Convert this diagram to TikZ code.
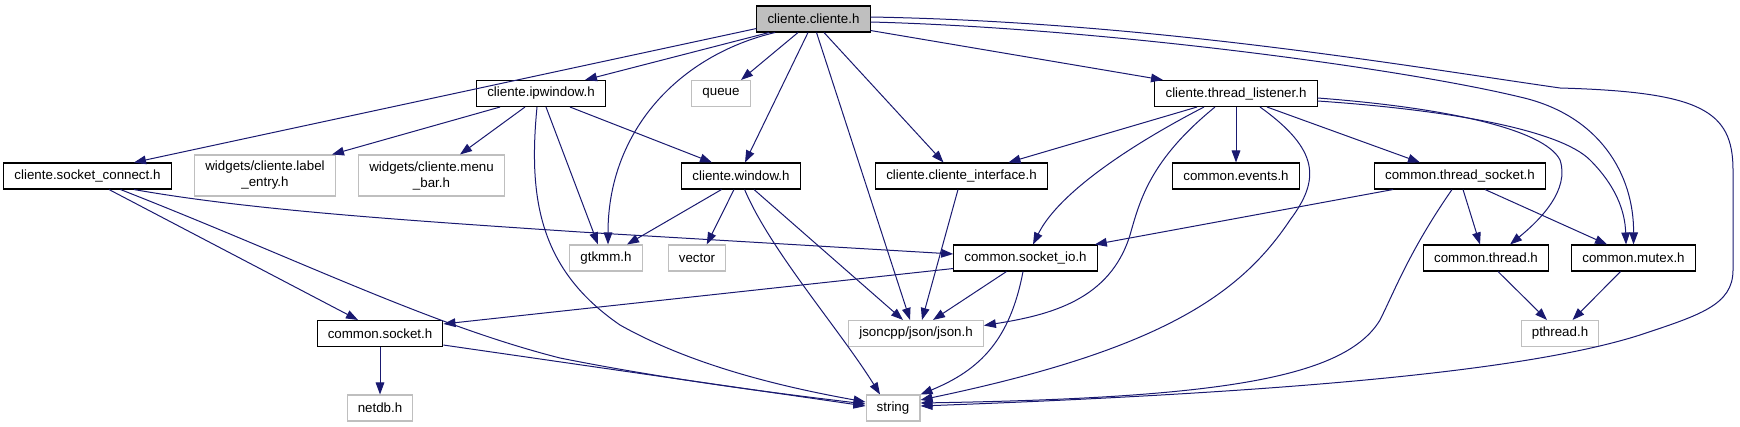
\documentclass[tikz,border=0pt]{standalone}
\usepackage{fontspec}
\setmainfont{Liberation Sans}
\usetikzlibrary{arrows.meta}
\definecolor{cnavy}{HTML}{191970}
\definecolor{cgrey}{HTML}{BFBFBF}
\tikzset{
  every picture/.style={line width=0.75pt},
  hdr/.style={draw=black, line width=0.8pt, fill=white, inner xsep=8pt, inner ysep=2pt, minimum height=19.5pt, align=center, font=\fontsize{10}{12}\selectfont},
  syshdr/.style={hdr, draw=cgrey},
  mainhdr/.style={hdr, fill=cgrey},
  dep/.style={-{Triangle[length=9pt, width=6.5pt]}, draw=cnavy, line width=0.75pt},
}
\begin{document}
\begin{tikzpicture}[x=0.75pt, y=-0.75pt]
  \useasboundingbox (0,0) rectangle (1740,427);
  % headers, one row per rank
  \node[mainhdr] (cliente) at (813.5,19) {cliente.cliente.h};
  \node[hdr] (ipwin) at (541,93.5) {cliente.ipwindow.h};
  \node[syshdr] (queue) at (721,93.5) {queue};
  \node[hdr] (listener) at (1236,93.5) {cliente.thread\_listener.h};
  \node[hdr] (sockconn) at (87.5,176) {cliente.socket\_connect.h};
  \node[syshdr, minimum height=30.75pt] (labelentry) at (265,175.5) {widgets/cliente.label\\\_entry.h};
  \node[syshdr, minimum height=30.75pt] (menubar) at (431.5,175.5) {widgets/cliente.menu\\\_bar.h};
  \node[hdr] (window) at (741,176) {cliente.window.h};
  \node[hdr] (iface) at (961.5,176) {cliente.cliente\_interface.h};
  \node[hdr] (events) at (1236,176) {common.events.h};
  \node[hdr] (threadsock) at (1460,176) {common.thread\_socket.h};
  \node[syshdr] (gtkmm) at (606,258) {gtkmm.h};
  \node[syshdr] (vector) at (697,258) {vector};
  \node[hdr] (socketio) at (1025.5,258) {common.socket\_io.h};
  \node[hdr] (thread) at (1486,258) {common.thread.h};
  \node[hdr] (mutex) at (1633.5,258) {common.mutex.h};
  \node[hdr] (socket) at (380,333.5) {common.socket.h};
  \node[syshdr] (json) at (916,333.5) {jsoncpp/json/json.h};
  \node[syshdr] (pthread) at (1560,333.5) {pthread.h};
  \node[syshdr] (netdb) at (380,408) {netdb.h};
  \node[syshdr] (string) at (893,408) {string};

  % cliente.cliente.h
  \draw[dep] ([shift={(0,-4)}]cliente.south west) -- ([shift={(46.5,0)}]sockconn.north);
  \draw[dep] ([shift={(-44.5,0)}]cliente.south) -- ([shift={(44,0)}]ipwin.north);
  \draw[dep] ([shift={(-38.5,0)}]cliente.south) .. controls (680,55) and (608,130) .. ([shift={(2,0)}]gtkmm.north);
  \draw[dep] ([shift={(-15.5,0)}]cliente.south) -- ([shift={(20,0)}]queue.north);
  \draw[dep] ([shift={(-5.5,0)}]cliente.south) -- ([shift={(4,0)}]window.north);
  \draw[dep] ([shift={(3,0)}]cliente.south) -- ([shift={(-6,0)}]json.north);
  \draw[dep] ([shift={(10.5,0)}]cliente.south) -- ([shift={(-18,0)}]iface.north);
  \draw[dep] ([shift={(0,-2)}]cliente.south east) -- ([shift={(-73,0)}]listener.north);
  \draw[dep] ([shift={(0,3)}]cliente.east) .. controls (1100,28) and (1400,68) .. (1520,97)
    .. controls (1600,115) and (1634,175) .. (mutex.north);
  \draw[dep] ([shift={(0,-2)}]cliente.east) .. controls (1150,22) and (1400,65) .. (1560,88)
    .. controls (1700,92) and (1733,110) .. (1733,170) -- (1733,270)
    .. controls (1733,305) and (1700,315) .. (1640,335)
    .. controls (1530,370) and (1300,392) .. ([shift={(0,-2)}]string.east);

  % cliente.ipwindow.h
  \draw[dep] ([shift={(-41,0)}]ipwin.south) -- ([shift={(67,0)}]labelentry.north);
  \draw[dep] ([shift={(-16,0)}]ipwin.south) -- ([shift={(28.5,0)}]menubar.north);
  \draw[dep] ([shift={(29,0)}]ipwin.south) -- ([shift={(-29,0)}]window.north);
  \draw[dep] ([shift={(5,0)}]ipwin.south) -- ([shift={(-8,0)}]gtkmm.north);
  \draw[dep] ([shift={(-4,0)}]ipwin.south) .. controls (528,200) and (540,270) .. (620,325)
    .. controls (700,370) and (800,390) .. ([shift={(0,-6)}]string.west);

  % cliente.socket_connect.h
  \draw[dep] ([shift={(21.5,0)}]sockconn.south) -- ([shift={(-22,0)}]socket.north);
  \draw[dep] ([shift={(33,0)}]sockconn.south) .. controls (300,260) and (430,325) .. (560,358)
    .. controls (680,382) and (800,396) .. ([shift={(0,-4)}]string.west);
  \draw[dep] ([shift={(46.5,0)}]sockconn.south) .. controls (250,210) and (400,220) .. (580,232)
    -- ([shift={(0,-4)}]socketio.west);

  % cliente.window.h and cliente.cliente_interface.h
  \draw[dep] ([shift={(-19.5,0)}]window.south) -- ([shift={(21,0)}]gtkmm.north);
  \draw[dep] ([shift={(-7,0)}]window.south) -- ([shift={(9.7,0)}]vector.north);
  \draw[dep] ([shift={(3.6,0)}]window.south) .. controls (770,250) and (840,330) .. ([shift={(-13,0)}]string.north);
  \draw[dep] ([shift={(13,0)}]window.south) -- ([shift={(-13,0)}]json.north);
  \draw[dep] ([shift={(-3.5,0)}]iface.south) -- ([shift={(6,0)}]json.north);

  % cliente.thread_listener.h
  \draw[dep] ([shift={(-39,0)}]listener.south) -- ([shift={(47,0)}]iface.north);
  \draw[dep] ([shift={(-32,0)}]listener.south) .. controls (1140,140) and (1060,190) .. ([shift={(7.5,0)}]socketio.north);
  \draw[dep] ([shift={(-21,0)}]listener.south) .. controls (1150,160) and (1140,200) .. (1130,235)
    .. controls (1110,300) and (1050,315) .. ([shift={(0,-8)}]json.east);
  \draw[dep] (listener.south) -- (events.north);
  \draw[dep] ([shift={(24,0)}]listener.south) .. controls (1320,150) and (1320,180) .. (1290,220)
    .. controls (1240,295) and (1160,350) .. ([shift={(0,-8)}]string.east);
  \draw[dep] ([shift={(31,0)}]listener.south) -- ([shift={(-40,0)}]threadsock.north);
  \draw[dep] ([shift={(0,4.5)}]listener.east) .. controls (1450,108) and (1545,130) .. (1560,160)
    .. controls (1570,190) and (1540,220) .. ([shift={(24,0)}]thread.north);
  \draw[dep] ([shift={(0,7.5)}]listener.east) .. controls (1450,110) and (1560,130) .. (1590,160)
    .. controls (1615,185) and (1625,210) .. ([shift={(-7.5,0)}]mutex.north);

  % common.thread_socket.h
  \draw[dep] ([shift={(-67,0)}]threadsock.south) -- ([shift={(-3,0)}]socketio.north east);
  \draw[dep] ([shift={(3,0)}]threadsock.south) -- ([shift={(-6,0)}]thread.north);
  \draw[dep] ([shift={(25,0)}]threadsock.south) -- ([shift={(-26.5,0)}]mutex.north);
  \draw[dep] ([shift={(-8,0)}]threadsock.south) .. controls (1410,250) and (1395,290) .. (1380,320)
    .. controls (1345,378) and (1220,398) .. ([shift={(0,-5)}]string.east);

  % common.socket_io.h, common.socket.h, thread and mutex
  \draw[dep] ([shift={(0,-3)}]socketio.south west) -- ([shift={(0,4)}]socket.north east);
  \draw[dep] ([shift={(-19,0)}]socketio.south) -- ([shift={(17,0)}]json.north);
  \draw[dep] ([shift={(-2.5,0)}]socketio.south) .. controls (1010,340) and (980,370) .. (string.north east);
  \draw[dep] (socket.south) -- (netdb.north);
  \draw[dep] ([shift={(0,-2)}]socket.south east) -- ([shift={(0,-2)}]string.west);
  \draw[dep] ([shift={(12,0)}]thread.south) -- ([shift={(-13,0)}]pthread.north);
  \draw[dep] ([shift={(-13,0)}]mutex.south) -- ([shift={(12.5,0)}]pthread.north);
\end{tikzpicture}
\end{document}
